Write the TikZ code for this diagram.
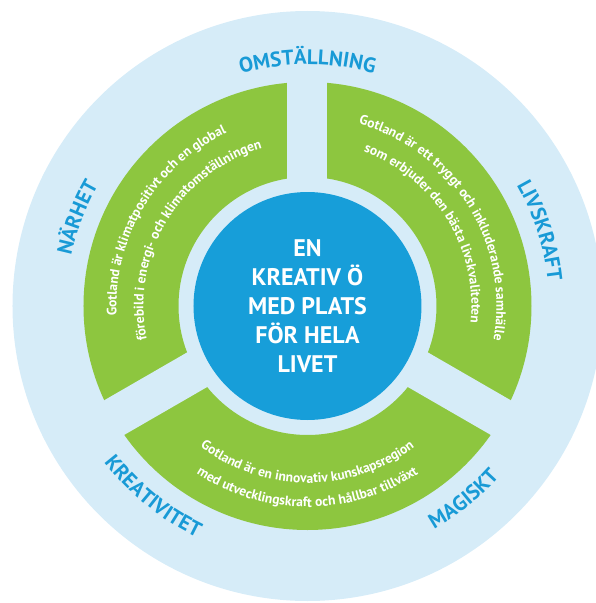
\documentclass[tikz,border=0pt]{standalone}
\usepackage{fontspec}
\setmainfont{PT Sans}
\usetikzlibrary{decorations.text}
\definecolor{bgblue}{RGB}{214,236,248}
\definecolor{segreen}{RGB}{141,198,63}
\definecolor{coreblue}{RGB}{23,158,217}
\definecolor{lblblue}{RGB}{24,154,214}
\begin{document}
\begin{tikzpicture}[x=1pt,y=1pt,
  outerlabel/.style={decorate,decoration={text along path,text align=center,text color=lblblue,
      text={|\fontsize{21}{25}\selectfont\bfseries|#1}}},
  segtext/.style={decorate,decoration={text along path,text align=center,text color=white,
      text={|\fontsize{13.6}{16}\selectfont\bfseries|#1}}}]
\useasboundingbox (-307.5,-297) rectangle (287.5,306);
% background disc
\fill[bgblue] (0,0) circle[radius=295pt];
% green ring
\fill[segreen,even odd rule] (0,0) circle[radius=224pt] (0,0) circle[radius=129pt];
% gaps
\foreach \a in {90,210,330} \fill[bgblue,rotate=\a] (0pt,-20pt) rectangle (235pt,20pt);
% core
\node[circle,fill=coreblue,minimum size=228pt,inner sep=0pt,text=white,align=center,
  font=\fontsize{24}{28.8}\selectfont\bfseries] (core) at (0,0)
  {EN\\KREATIV Ö\\MED PLATS\\FÖR HELA\\LIVET};
% outer labels
\path[outerlabel=OMSTÄLLNING] (150:241.5pt) arc[start angle=150,end angle=30,radius=241.5pt];
\path[outerlabel=NÄRHET] (219:241.5pt) arc[start angle=219,end angle=99,radius=241.5pt];
\path[outerlabel=LIVSKRAFT] (78:241.5pt) arc[start angle=78,end angle=-42,radius=241.5pt];
\path[outerlabel=KREATIVITET] (171:256.5pt) arc[start angle=171,end angle=291,radius=256.5pt];
\path[outerlabel=MAGISKT] (249:256.5pt) arc[start angle=249,end angle=369,radius=256.5pt];
% segment texts
\path[segtext={Gotland är klimatpositivt och en global}] (209:191pt) arc[start angle=209,end angle=89,radius=191pt];
\path[segtext={förebild i energi- och klimatomställningen}] (209:164pt) arc[start angle=209,end angle=89,radius=164pt];
\path[segtext={Gotland är ett tryggt och inkluderande samhälle}] (92:189pt) arc[start angle=92,end angle=-28,radius=189pt];
\path[segtext={som erbjuder den bästa livskvaliteten}] (92:164pt) arc[start angle=92,end angle=-28,radius=164pt];
\path[segtext={Gotland är en innovativ kunskapsregion}] (210:177pt) arc[start angle=210,end angle=330,radius=177pt];
\path[segtext={med utvecklingskraft och hållbar tillväxt}] (210:201pt) arc[start angle=210,end angle=330,radius=201pt];
\end{tikzpicture}
\end{document}
